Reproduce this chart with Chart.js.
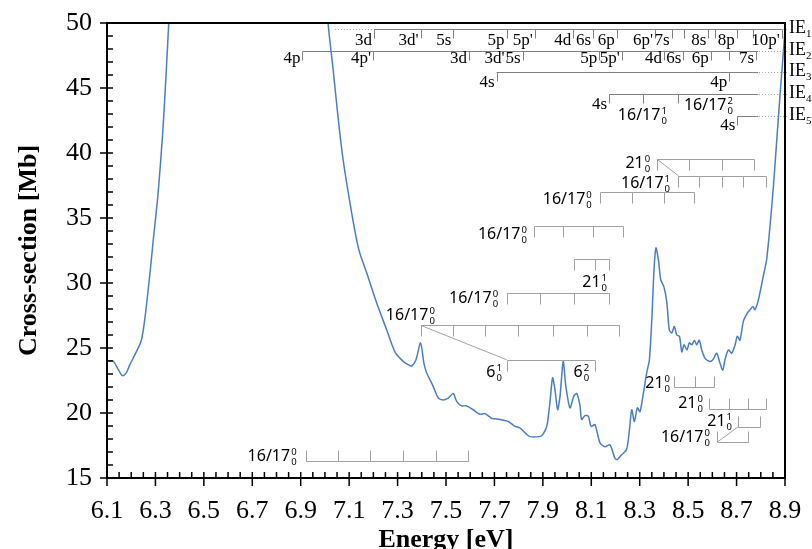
<!DOCTYPE html>
<html><head><meta charset="utf-8">
<script src="https://cdn.jsdelivr.net/npm/chart.js@4/dist/chart.umd.min.js"></script>
<style>html,body{margin:0;padding:0;background:#fff;}canvas{display:block;}</style>
</head><body>
<canvas id="c" width="812" height="549"></canvas>
<script>
// ---------- data ----------
const energy = [6.100,6.125,6.145,6.164,6.180,6.194,6.221,6.242,6.256,6.276,6.290,6.311,6.331,6.345,6.355,6.362,
  6.700,
  7.006,7.013,7.034,7.055,7.075,7.103,7.131,7.144,7.172,7.213,7.255,7.289,7.323,7.345,7.358,7.376,7.395,7.409,7.420,
  7.447,7.468,7.488,7.509,7.530,7.544,7.564,7.585,7.612,7.640,7.661,7.688,7.723,7.757,7.785,7.805,7.840,7.860,7.895,
  7.916,7.929,7.940,7.950,7.961,7.971,7.984,7.995,8.012,8.028,8.040,8.053,8.060,8.074,8.088,8.099,8.115,8.136,8.157,
  8.177,8.198,8.207,8.226,8.246,8.257,8.267,8.278,8.290,8.301,8.315,8.329,8.340,8.350,8.359,8.367,8.377,8.387,8.400,
  8.412,8.422,8.432,8.443,8.453,8.464,8.474,8.483,8.495,8.505,8.515,8.526,8.535,8.546,8.556,8.570,8.590,8.602,8.618,
  8.632,8.643,8.652,8.666,8.680,8.694,8.703,8.714,8.728,8.745,8.756,8.767,8.776,8.790,8.810,8.824,8.838,8.852,8.866,
  8.880,8.891,8.900];
const crossSection = [24.0,24.0,23.4,22.87,23.1,23.7,24.7,25.6,27.2,30.5,33.1,36.9,41.8,46.4,50.0,53.0,
  null,
  53.0,50.0,46.4,42.6,39.5,36.2,33.3,32.3,30.8,28.5,26.4,24.7,23.97,23.7,23.6,24.1,25.4,23.8,23.1,
  22.05,21.15,21.0,21.15,21.5,20.9,20.55,20.55,20.25,19.9,19.95,19.6,19.5,19.35,18.97,18.85,18.25,18.15,18.25,
  18.97,20.77,22.7,21.8,20.25,21.3,23.97,22.05,20.4,21.3,21.5,20.6,19.5,19.8,19.75,18.97,19.1,17.7,17.4,
  17.55,16.5,16.42,16.8,17.2,18.6,20.25,19.35,20.4,20.1,21.5,23.1,24.1,27.2,31.0,32.7,31.8,30.25,29.7,
  28.5,26.4,26.15,26.65,26.0,25.9,24.7,25.25,24.85,25.4,25.25,25.6,25.25,25.6,24.85,24.2,23.97,24.1,24.6,
  23.8,23.3,24.1,24.85,24.6,25.25,25.9,25.6,27.05,27.7,27.95,28.2,27.95,28.7,30.5,31.8,34.35,37.4,41.0,
  44.6,47.2,49.5];

const xTickValues = [6.1,6.3,6.5,6.7,6.9,7.1,7.3,7.5,7.7,7.9,8.1,8.3,8.5,8.7,8.9];
const xTickLabels = ['6.1','6.3','6.5','6.7','6.9','7.1','7.3','7.5','7.7','7.9','8.1','8.3','8.5','8.7','8.9'];
const yTickValues = [15,20,25,30,35,40,45,50];
const yTickLabels = ['15','20','25','30','35','40','45','50'];

// Rydberg series converging to the ionisation energies IE1..IE5
const ie1Energies = [7.203,7.395,7.530,7.750,7.867,8.026,8.108,8.205,8.363,8.432,8.483,8.583,8.611,8.701,8.769,8.887];
const ie1Labels   = ['3d',"3d'",'5s','5p',"5p'",'4d','6s','6p',"6p'",'7s','','8s','','8p','',"10p'"];
const ie2Energies = [6.907,7.199,7.595,7.750,7.816,8.133,8.226,8.400,8.480,8.593,8.670,8.781];
const ie2Labels   = ['4p',"4p'",'3d',"3d'",'5s','5p',"5p'",'4d','6s','6p','','7s'];
const ie3Energies = [7.709,8.670];
const ie3Labels   = ['4s','4p'];
const ie4Energies = [8.174,8.315,8.460];
const ie4Labels   = ['4s','',''];
const ie5Energies = [8.703];
const ie5Labels   = ['4s'];
const ieLevels    = [49.54,47.82,46.20,44.56,42.82];
const ieNames     = ['1','2','3','4','5'];

// vibrational progressions
const progA  = [6.921,7.052,7.188,7.323,7.457,7.590];
const progB  = [7.396,7.530,7.661,7.798,7.940,8.081,8.216];
const progB6 = [7.750,8.115];
const progC  = [7.750,7.888,8.028,8.174];
const progD  = [8.028,8.115,8.174];
const progE  = [7.865,7.984,8.108,8.232];
const progF  = [8.136,8.267,8.400,8.526];
const progG  = [8.370,8.505,8.639,8.774];
const progH  = [8.460,8.546,8.639,8.728,8.821];
const progI  = [8.442,8.529,8.607];
const progJ  = [8.588,8.669,8.746,8.822];
const progK  = [8.705,8.797];
const progL  = [8.621,8.746];

// ---------- annotation layout (data units) ----------
const rows = [
  {e: ie1Energies, l: ie1Labels, level: ieLevels[0], end: ie1Energies[ie1Energies.length-1], dy: 15, lead: 7.041},
  {e: ie2Energies, l: ie2Labels, level: ieLevels[1], end: 8.789, dy: 11},
  {e: ie3Energies, l: ie3Labels, level: ieLevels[2], end: 8.789, dy: 14},
  {e: ie4Energies, l: ie4Labels, level: ieLevels[3], end: 8.789, dy: 14},
  {e: ie5Energies, l: ie5Labels, level: ieLevels[4], end: 8.789, dy: 13}
];
const combs = [
  {e: progA, v: 16.28, dir: -1}, {e: progB, v: 26.74, dir: 1}, {e: progB6, v: 24.10, dir: 1},
  {e: progC, v: 29.23, dir: 1}, {e: progD, v: 31.85, dir: 1}, {e: progE, v: 34.35, dir: 1},
  {e: progF, v: 37.00, dir: 1}, {e: progG, v: 39.54, dir: 1}, {e: progH, v: 38.25, dir: 1},
  {e: progI, v: 21.97, dir: -1}, {e: progJ, v: 20.33, dir: -1}, {e: progK, v: 18.92, dir: -1},
  {e: progL, v: 17.77, dir: -1}
];
const diagonals = [
  [progB[0], 26.74, progB6[0], 24.10],
  [progG[0], 39.54, progH[0], 38.25],
  [progL[0], 17.77, progK[0], 18.92]
];
const combLabels = [
  ['16/17','0','0',6.883,16.30], ['16/17','0','0',7.454,27.18], ['16/17','0','0',7.715,28.46],
  ['16/17','0','0',7.834,33.38], ['16/17','0','0',8.102,36.10], ['21','1','0',8.165,29.69],
  ['6','1','0',7.731,22.74], ['6','2','0',8.091,22.74], ['21','0','0',8.343,38.85],
  ['16/17','1','0',8.425,37.31], ['16/17','1','0',8.412,42.51], ['16/17','2','0',8.685,43.33],
  ['21','0','0',8.425,21.92], ['21','0','0',8.561,20.38], ['21','1','0',8.681,19.02],
  ['16/17','0','0',8.590,17.77]
];

const SERIF = '"Liberation Serif", "Times New Roman", serif';
const SANS = '"Noto Sans", sans-serif';

function scriptLabel(ctx, base, sup, sub, xr, yb) {
  ctx.font = '16px ' + SANS;
  const wb = ctx.measureText(base).width;
  ctx.font = '9.5px ' + SANS;
  const ws = Math.max(ctx.measureText(sup).width, ctx.measureText(sub).width);
  const x0 = xr - ws - wb - 1;
  ctx.textAlign = 'left'; ctx.textBaseline = 'alphabetic'; ctx.fillStyle = '#000';
  ctx.font = '16px ' + SANS; ctx.fillText(base, x0, yb);
  ctx.font = '9.5px ' + SANS;
  ctx.fillText(sup, x0 + wb + 1, yb - 6);
  ctx.fillText(sub, x0 + wb + 1, yb + 4);
}

const framePlugin = {
  id: 'frame',
  afterDraw(chart) {
    const {ctx, chartArea: a, scales: {x, y}} = chart;
    const X = v => x.getPixelForValue(v), Y = v => y.getPixelForValue(v);
    ctx.save();
    // --- Rydberg rows ---
    rows.forEach((r, k) => {
      const yy = Math.round(Y(r.level)) + 0.5;
      ctx.lineWidth = 1; ctx.setLineDash([]); ctx.strokeStyle = '#808080';
      ctx.beginPath();
      ctx.moveTo(X(r.e[0]), yy); ctx.lineTo(X(r.end), yy);
      r.e.forEach(e => { const xx = Math.round(X(e)) + 0.5; ctx.moveTo(xx, yy); ctx.lineTo(xx, yy + 9); });
      ctx.stroke();
      ctx.setLineDash([1, 2]); ctx.strokeStyle = '#a0a0a0';
      ctx.beginPath(); ctx.moveTo(X(r.end) + 1, yy); ctx.lineTo(a.right + 4, yy);
      if (r.lead) { ctx.moveTo(X(r.lead), yy); ctx.lineTo(X(r.e[0]) - 1, yy); }
      ctx.stroke(); ctx.setLineDash([]);
      ctx.font = '17px ' + SERIF; ctx.fillStyle = '#000'; ctx.textAlign = 'right'; ctx.textBaseline = 'alphabetic';
      r.l.forEach((t, i) => { if (t) ctx.fillText(t, X(r.e[i]) - 2, yy + r.dy); });
      // IE label
      ctx.textAlign = 'left'; ctx.textBaseline = 'middle';
      ctx.font = '18px ' + SERIF; ctx.fillText('IE', a.right + 4, yy - 1);
      const w = ctx.measureText('IE').width;
      ctx.font = '11px ' + SERIF; ctx.fillText(ieNames[k], a.right + 4 + w, yy + 5);
    });
    // --- progressions ---
    ctx.strokeStyle = '#a0a0a0'; ctx.lineWidth = 1;
    ctx.beginPath();
    combs.forEach(c => {
      const yy = Math.round(Y(c.v)) + 0.5;
      ctx.moveTo(Math.round(X(c.e[0])) + 0.5, yy); ctx.lineTo(Math.round(X(c.e[c.e.length-1])) + 0.5, yy);
      c.e.forEach(e => { const xx = Math.round(X(e)) + 0.5; ctx.moveTo(xx, yy); ctx.lineTo(xx, yy + c.dir * 11); });
    });
    diagonals.forEach(d => { ctx.moveTo(X(d[0]), Y(d[1])); ctx.lineTo(X(d[2]), Y(d[3])); });
    ctx.stroke();
    combLabels.forEach(l => scriptLabel(ctx, l[0], l[1], l[2], X(l[3]), Y(l[4])));
    // --- axes frame & ticks ---
    ctx.strokeStyle = '#000'; ctx.lineWidth = 2;
    ctx.strokeRect(a.left, a.top, a.right - a.left, a.bottom - a.top);
    ctx.lineWidth = 1.5;
    ctx.beginPath();
    for (let i = 0; i <= 35; i++) {
      const yy = Y(15 + i); const major = i % 5 === 0;
      ctx.moveTo(major ? a.left - 7 : a.left, yy); ctx.lineTo(a.left + 6, yy);
    }
    for (let i = 0; i <= 56; i++) {
      const xx = X(6.1 + i * 0.05); const major = i % 4 === 0;
      ctx.moveTo(xx, major ? a.bottom + 8 : a.bottom); ctx.lineTo(xx, a.bottom - 6);
    }
    ctx.stroke();
    ctx.restore();
  }
};

const pts = energy.map((e, i) => ({x: e, y: crossSection[i]}));
const noPad = s => { s.paddingTop = 0; s.paddingBottom = 0; s.paddingLeft = 0; s.paddingRight = 0; };

new Chart(document.getElementById('c').getContext('2d'), {
  type: 'line',
  data: {datasets: [{data: pts, borderColor: '#4a7ec2', borderWidth: 1.5, pointRadius: 0, tension: 0.25, fill: false, spanGaps: false}]},
  options: {
    responsive: false, devicePixelRatio: 1, animation: false,
    layout: {padding: {left: 0, right: 27, top: 23, bottom: 0}},
    plugins: {legend: {display: false}, tooltip: {enabled: false}},
    scales: {
      x: {
        type: 'linear', min: 6.1, max: 8.9,
        afterBuildTicks: s => { s.ticks = xTickValues.map(v => ({value: v})); },
        afterFit: s => { s.height = 71; noPad(s); },
        grid: {display: false, drawTicks: false}, border: {display: false},
        ticks: {autoSkip: false, maxRotation: 0, padding: 18, color: '#000',
          font: {family: SERIF, size: 26}, callback: (v, i) => xTickLabels[i]},
        title: {display: true, text: 'Energy [eV]', color: '#000',
          font: {family: SERIF, size: 26, weight: 'bold'}, padding: {top: 0, bottom: -7}}
      },
      y: {
        type: 'linear', min: 15, max: 50,
        afterBuildTicks: s => { s.ticks = yTickValues.map(v => ({value: v})); },
        afterFit: s => { s.width = 107; noPad(s); },
        grid: {display: false, drawTicks: false}, border: {display: false},
        ticks: {autoSkip: false, padding: 15, color: '#000',
          font: {family: SERIF, size: 26}, callback: (v, i) => yTickLabels[i]},
        title: {display: true, text: 'Cross-section [Mb]', color: '#000',
          font: {family: SERIF, size: 26, weight: 'bold'}, padding: {top: 14, bottom: 0}}
      }
    }
  },
  plugins: [framePlugin]
});
</script>
</body></html>
